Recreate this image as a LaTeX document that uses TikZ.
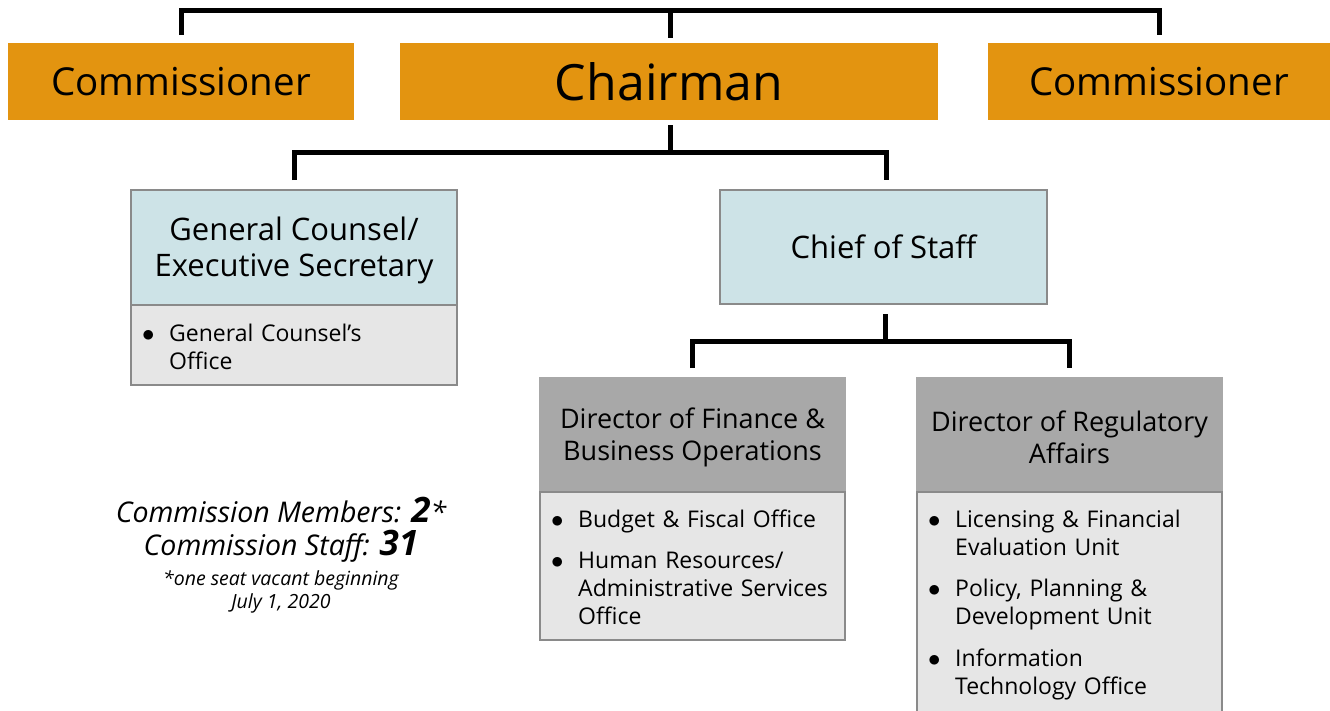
\documentclass[tikz,border=0pt]{standalone}
\usepackage{fontspec}
\setmainfont{Open Sans}
\definecolor{orgorange}{HTML}{E39410}
\definecolor{orgblue}{HTML}{CDE3E7}
\definecolor{orggray}{HTML}{A8A8A8}
\definecolor{orglight}{HTML}{E6E6E6}
\definecolor{orgborder}{HTML}{8A8A8A}
\newcommand{\bitem}[2]{\par\noindent\makebox[29pt][l]{\hspace{2pt}$\bullet$}\parbox[t]{#1}{\raggedright\strut #2\strut}\par}
\tikzset{
  link/.style={line width=5pt, black},
  topbox/.style={fill=orgorange, draw=none, inner sep=0pt, outer sep=0pt, font=\fontsize{38.5}{44}\selectfont},
  bluebox/.style={fill=orgblue, draw=orgborder, line width=2.5pt, inner sep=0pt, outer sep=0pt, align=center, font=\fontsize{31}{36}\selectfont},
  graybox/.style={fill=orggray, draw=none, inner sep=0pt, outer sep=0pt},
  graytext/.style={inner sep=0pt, align=center, font=\fontsize{27}{32}\selectfont},
  listbox/.style={fill=orglight, draw=orgborder, line width=2.5pt, inner sep=0pt, outer sep=0pt},
  listtext/.style={inner sep=0pt, align=left, font=\fontsize{23}{28}\selectfont},
  stat/.style={inner sep=0pt, align=center}
}
\begin{document}
\begin{tikzpicture}[x=1pt,y=-1pt]
\clip (0,0) rectangle (1330,710);
\fill[white] (0,0) rectangle (1330,710);
% top row
\node[topbox, minimum width=346pt, minimum height=77pt] (com1) at (181,81.5) {Commissioner};
\node[topbox, minimum width=538pt, minimum height=77pt, font=\fontsize{50}{56}\selectfont] (chair) at (669,81.5) {Chairman};
\node[topbox, minimum width=342pt, minimum height=77pt] (com2) at (1159,81.5) {Commissioner};
\coordinate (t0) at (670,10);
\draw[link] ([yshift=8pt]com1.north) -- (com1.north |- t0) -- (com2.north |- t0) -- ([yshift=8pt]com2.north);
\draw[link] (t0) -- ([yshift=5pt]chair.north -| t0);
% second row
\node[bluebox, minimum width=326pt, minimum height=115pt] (gc) at (294,247.5) {};
\node[inner sep=0pt, align=center, font=\fontsize{31}{36}\selectfont] (gctitle) at (294,250.5) {General Counsel/\\Executive Secretary};
\node[listbox, minimum width=326pt, minimum height=80pt] (gclist) at (294,345) {};
\node[listtext, text width=300pt, anchor=west] (gctext) at (140,346) {\bitem{270pt}{General Counsel’s\\Office}};
\node[bluebox, minimum width=327pt, minimum height=114pt] (cos) at (883.5,247) {Chief of Staff};
\coordinate (m1) at (670,152);
\draw[link] ([yshift=-5pt]chair.south -| m1) -- (m1);
\draw[link] ([yshift=10pt]gc.north) -- (gc.north |- m1) -- (886,152) -- (886,180);
% third row
\coordinate (m2) at (885,341);
\draw[link] ([yshift=-10pt]cos.south -| m2) -- (m2);
\node[graybox, minimum width=307pt, minimum height=115pt] (fin) at (692.5,434.5) {};
\node[graytext] (fintitle) at (692.5,437.5) {Director of Finance \&\\Business Operations};
\node[listbox, minimum width=305pt, minimum height=148pt] (finlist) at (692.5,566) {};
\node[listtext, text width=285pt, anchor=west] (fintext) at (549,566) {\bitem{255pt}{Budget \& Fiscal Office}\vspace{12.5pt}\bitem{255pt}{Human Resources/\\Administrative Services\\Office}};
\node[graybox, minimum width=307pt, minimum height=115pt] (reg) at (1069.5,434.5) {};
\node[graytext] (regtitle) at (1069.5,437.5) {Director of Regulatory\\Affairs};
\node[listbox, minimum width=305pt, minimum height=250pt, anchor=north] (reglist) at (1069.5,492) {};
\node[listtext, text width=285pt, anchor=north west] (regtext) at (926,499) {\bitem{255pt}{Licensing \& Financial\\Evaluation Unit}\vspace{12.5pt}\bitem{255pt}{Policy, Planning \&\\Development Unit}\vspace{12.5pt}\bitem{255pt}{Information\\Technology Office}};
\draw[link] ([yshift=9pt]fin.north) -- (fin.north |- m2) -- (reg.north |- m2) -- ([yshift=9pt]reg.north);
% stats
\node[stat, font=\itshape\fontsize{28.5}{30}\selectfont] (s1) at (281,510) {Commission Members: {\bfseries\fontsize{35}{30}\selectfont 2}*};
\node[stat, font=\itshape\fontsize{28.5}{30}\selectfont] (s2) at (281,546) {Commission Staff: {\bfseries\fontsize{35}{30}\selectfont 31}};
\node[stat, font=\itshape\fontsize{19.5}{23}\selectfont] (s3) at (281,592) {*one seat vacant beginning\\July 1, 2020};
\end{tikzpicture}
\end{document}
